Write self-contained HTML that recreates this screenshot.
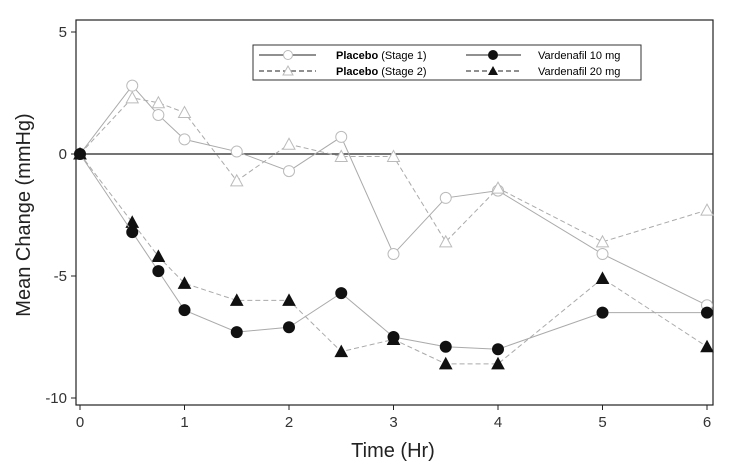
<!DOCTYPE html>
<html><head><meta charset="utf-8"><style>
body{margin:0;background:#fff}
svg{display:block;font-family:"Liberation Sans",sans-serif}
</style></head><body>
<svg id="chart" width="736" height="470">
<g id="axes"></g><g id="series"></g>
<g>
<rect x="253" y="45" width="388" height="35" fill="#fff" stroke="#333" stroke-width="1"/>
<line x1="259" y1="55" x2="316" y2="55" stroke="#222"/><circle cx="288" cy="55" r="4.5" fill="#fff" stroke="#bbb"/>
<text x="336" y="59" font-size="11" font-weight="bold">Placebo <tspan font-weight="normal">(Stage 1)</tspan></text>
<line x1="259" y1="71" x2="316" y2="71" stroke="#222" stroke-dasharray="5,3"/><path d="M288,66 L293,75 L283,75Z" fill="#fff" stroke="#bbb"/>
<text x="336" y="75" font-size="11" font-weight="bold">Placebo <tspan font-weight="normal">(Stage 2)</tspan></text>
<line x1="466" y1="55" x2="521" y2="55" stroke="#222"/><circle cx="493" cy="55" r="5" fill="#111"/>
<text x="538" y="59" font-size="11">Vardenafil 10 mg</text>
<line x1="466" y1="71" x2="521" y2="71" stroke="#222" stroke-dasharray="5,3"/><path d="M493,66 L498,75 L488,75Z" fill="#111"/>
<text x="538" y="75" font-size="11">Vardenafil 20 mg</text>
</g>
</svg>
<script>
const times=[0,0.5,0.75,1,1.5,2,2.5,3,3.5,4,5,6];
const placebo1=[0,2.8,1.6,0.6,0.1,-0.7,0.7,-4.1,-1.8,-1.5,-4.1,-6.2];
const placebo2=[0,2.3,2.1,1.7,-1.1,0.4,-0.1,-0.1,-3.6,-1.4,-3.6,-2.3];
const vard10=[0,-3.2,-4.8,-6.4,-7.3,-7.1,-5.7,-7.5,-7.9,-8.0,-6.5,-6.5];
const vard20=[0,-2.8,-4.2,-5.3,-6.0,-6.0,-8.1,-7.6,-8.6,-8.6,-5.1,-7.9];
const xTicks=[0,1,2,3,4,5,6];
const yTicks=[5,0,-5,-10];
const NS="http://www.w3.org/2000/svg";
const X=v=>80+v*104.5, Y=v=>154-v*24.4;
function mk(t,a,p){const e=document.createElementNS(NS,t);for(const k in a)e.setAttribute(k,a[k]);p.appendChild(e);return e;}
const ax=document.getElementById('axes'), sg=document.getElementById('series');
const frame=mk('rect',{x:76,y:20,width:637,height:385,fill:'none',stroke:'#222','stroke-width':1.2},ax);


const zl=mk('line',{x1:76,x2:713,y1:Y(0),y2:Y(0),stroke:'#222','stroke-width':1.2},ax);


xTicks.forEach(t=>{mk('line',{x1:X(t),x2:X(t),y1:405,y2:410,stroke:'#222'},ax);
const tx=mk('text',{x:X(t),y:427,'text-anchor':'middle','font-size':15,fill:'#333'},ax);tx.textContent=t;

});
yTicks.forEach(t=>{mk('line',{x1:71,x2:76,y1:Y(t),y2:Y(t),stroke:'#222'},ax);
const tx=mk('text',{x:67,y:Y(t)+5,'text-anchor':'end','font-size':15,fill:'#333'},ax);tx.textContent=t;

});
const xt=mk('text',{x:393,y:457,'text-anchor':'middle','font-size':20,fill:'#222'},ax);xt.textContent='Time (Hr)';


const yt=mk('text',{x:0,y:0,transform:'translate(30,215) rotate(-90)','text-anchor':'middle','font-size':20,fill:'#222'},ax);yt.textContent='Mean Change (mmHg)';


function series(vals,dash,marker,fill,stroke,name){
 const g=mk('g',{},sg);
 
 
 mk('polyline',{points:times.map((t,i)=>X(t)+','+Y(vals[i])).join(' '),fill:'none',stroke:'#aaa','stroke-width':1,'stroke-dasharray':dash},g);
 times.forEach((t,i)=>{const x=X(t),y=Y(vals[i]);let m;
  if(marker==='c')m=mk('circle',{cx:x,cy:y,r:5.5,fill:fill,stroke:stroke},g);
  else m=mk('path',{d:`M${x},${y-6} L${x+6},${y+5} L${x-6},${y+5}Z`,fill:fill,stroke:stroke},g);
  
  });
}
series(placebo1,'none','c','#fff','#bbb','placebo-stage1');
series(placebo2,'5,3','t','#fff','#bbb','placebo-stage2');
series(vard20,'5,3','t','#111','#111','vardenafil-20mg');
series(vard10,'none','c','#111','#111','vardenafil-10mg');
</script>
</body></html>
